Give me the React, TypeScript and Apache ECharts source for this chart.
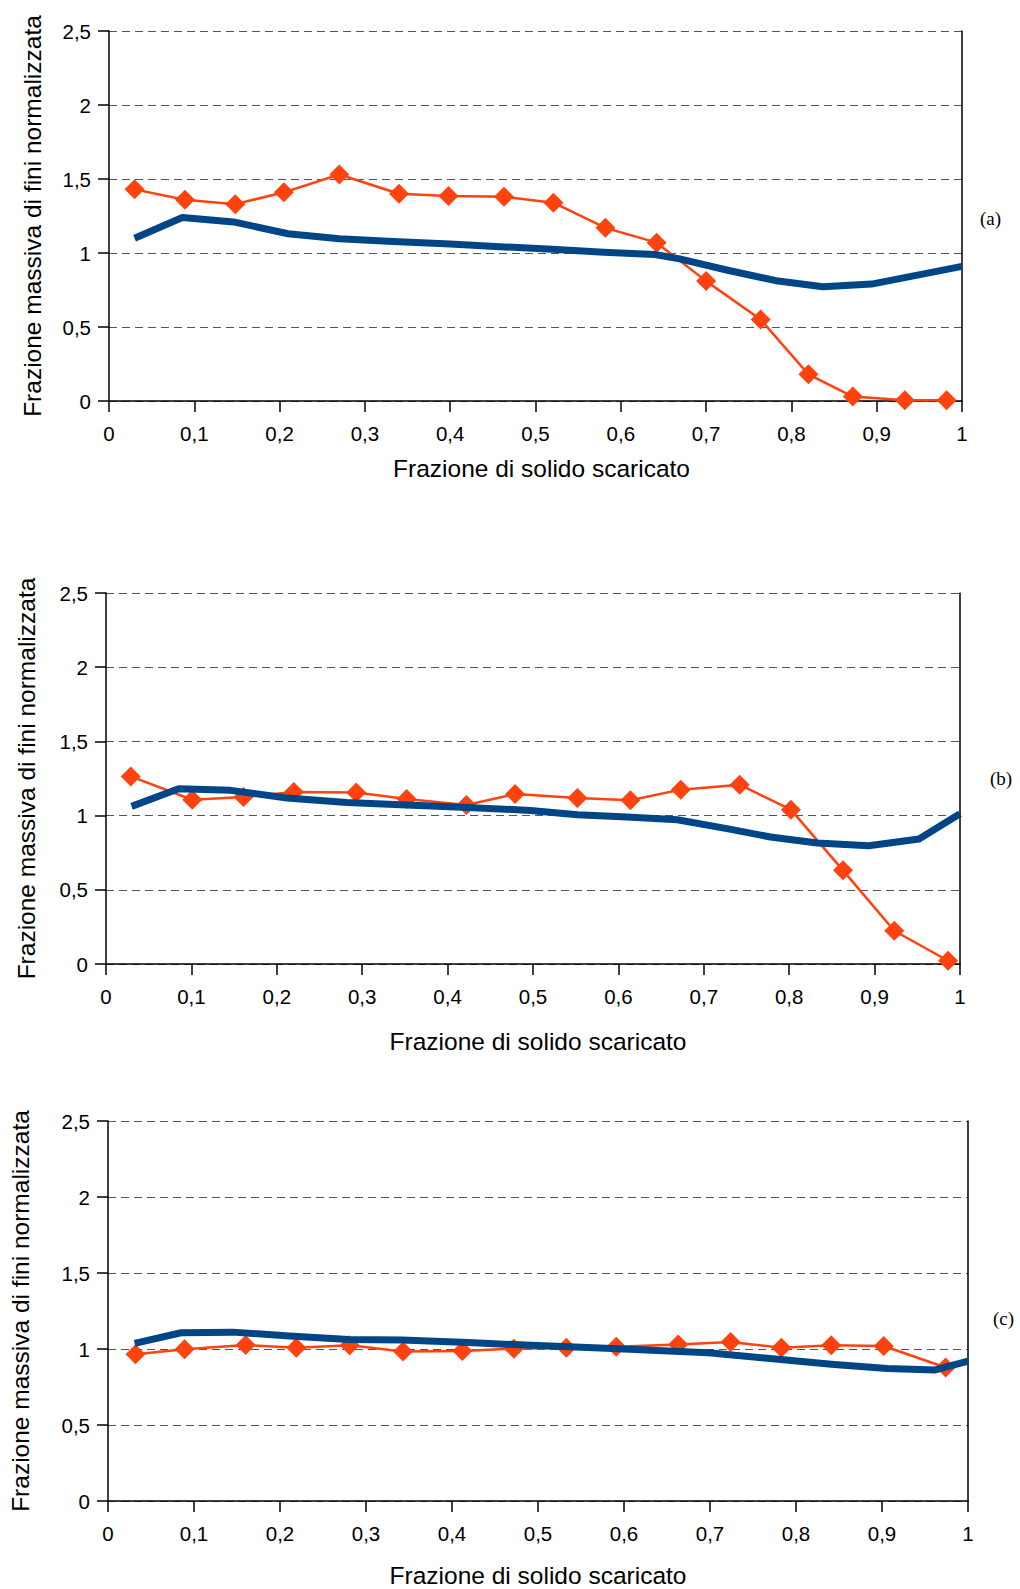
import React, { useEffect, useRef } from "react";
import * as echarts from "echarts";

// ---- Data ----
const xTicks = [0, 0.1, 0.2, 0.3, 0.4, 0.5, 0.6, 0.7, 0.8, 0.9, 1];
const yTicks = [0, 0.5, 1, 1.5, 2, 2.5];
const panelLabels = ["(a)", "(b)", "(c)"];
const xTitle = "Frazione di solido scaricato";
const yTitle = "Frazione massiva di fini normalizzata";

const redAx = [0.03, 0.089, 0.148, 0.205, 0.27, 0.34, 0.398, 0.463, 0.521, 0.582, 0.642, 0.7, 0.764, 0.82, 0.872, 0.933, 0.982];
const redAy = [1.43, 1.36, 1.33, 1.41, 1.53, 1.4, 1.385, 1.38, 1.34, 1.17, 1.07, 0.81, 0.55, 0.18, 0.03, 0.005, 0.005];
const blueAx = [0.03, 0.086, 0.146, 0.21, 0.27, 0.333, 0.4, 0.458, 0.52, 0.58, 0.64, 0.669, 0.724, 0.782, 0.837, 0.894, 1.0];
const blueAy = [1.1, 1.24, 1.21, 1.13, 1.097, 1.077, 1.061, 1.043, 1.025, 1.005, 0.99, 0.96, 0.885, 0.813, 0.772, 0.79, 0.91];

const redBx = [0.029, 0.101, 0.161, 0.22, 0.293, 0.352, 0.422, 0.479, 0.552, 0.614, 0.673, 0.742, 0.802, 0.863, 0.923, 0.986];
const redBy = [1.264, 1.107, 1.125, 1.159, 1.156, 1.112, 1.071, 1.145, 1.118, 1.103, 1.175, 1.208, 1.04, 0.631, 0.224, 0.022];
const blueBx = [0.03, 0.085, 0.146, 0.212, 0.282, 0.345, 0.423, 0.497, 0.552, 0.61, 0.669, 0.727, 0.778, 0.833, 0.893, 0.952, 1.0];
const blueBy = [1.062, 1.181, 1.17, 1.119, 1.089, 1.073, 1.055, 1.035, 1.006, 0.99, 0.972, 0.912, 0.856, 0.815, 0.797, 0.842, 1.013];

const redCx = [0.032, 0.089, 0.16, 0.219, 0.281, 0.343, 0.412, 0.472, 0.533, 0.591, 0.663, 0.724, 0.783, 0.841, 0.902, 0.974];
const redCy = [0.965, 0.998, 1.026, 1.009, 1.024, 0.983, 0.987, 1.002, 1.009, 1.015, 1.03, 1.046, 1.009, 1.024, 1.02, 0.878];
const blueCx = [0.031, 0.085, 0.145, 0.211, 0.28, 0.342, 0.419, 0.493, 0.593, 0.698, 0.779, 0.841, 0.906, 0.962, 1.0];
const blueCy = [1.037, 1.107, 1.111, 1.085, 1.063, 1.059, 1.042, 1.024, 1.002, 0.976, 0.932, 0.9, 0.871, 0.862, 0.921];

const RED = "#ff420e";
const BLUE = "#004586";
const FONT = "Liberation Sans";

const zip = (xs: number[], ys: number[]) => xs.map((x, i) => [x, ys[i]]);
const fmt = (v: number) => String(Math.round(v * 10) / 10).replace(".", ",");

const panels = [
  { red: zip(redAx, redAy), blue: zip(blueAx, blueAy), grid: { left: 109, top: 31, width: 853, height: 370 }, yGap: 64, xGap: 55, xPad: 12, label: { x: 980, y: 220 } },
  { red: zip(redBx, redBy), blue: zip(blueBx, blueBy), grid: { left: 106, top: 593, width: 854, height: 371 }, yGap: 67, xGap: 65, xPad: 10, label: { x: 990, y: 780 } },
  { red: zip(redCx, redCy), blue: zip(blueCx, blueCy), grid: { left: 105, top: 1121, width: 863, height: 381 }, yGap: 75, xGap: 62, xPad: 0, label: { x: 993, y: 1320 } },
];

export default function App() {
  const ref = useRef<HTMLDivElement>(null);
  useEffect(() => {
    if (!ref.current) return;
    const chart = echarts.init(ref.current, undefined, { renderer: "svg" });
    const grid: any[] = [];
    const xAxis: any[] = [];
    const yAxis: any[] = [];
    const series: any[] = [];
    const graphic: any[] = [];
    panels.forEach((p, i) => {
      grid.push({ ...p.grid, containLabel: false });
      xAxis.push({
        type: "value",
        gridIndex: i,
        min: xTicks[0],
        max: xTicks[xTicks.length - 1],
        interval: 0.1,
        name: xTitle,
        nameLocation: "middle",
        nameGap: p.xGap,
        nameTextStyle: { fontFamily: FONT, fontSize: 24.5, color: "#000", padding: [0, 0, 0, p.xPad] },
        axisLine: { show: true, onZero: false, lineStyle: { color: "#000", width: 1.5 } },
        axisTick: { show: true, length: 11, lineStyle: { color: "#000", width: 1.5 } },
        axisLabel: { fontFamily: FONT, fontSize: 20.5, color: "#000", margin: 22, formatter: (v: number) => fmt(v) },
        splitLine: { show: false },
      });
      yAxis.push({
        type: "value",
        gridIndex: i,
        min: yTicks[0],
        max: yTicks[yTicks.length - 1],
        interval: 0.5,
        name: yTitle,
        nameLocation: "middle",
        nameGap: p.yGap,
        nameRotate: 90,
        nameTextStyle: { fontFamily: FONT, fontSize: 24.5, color: "#000" },
        axisLine: { show: true, onZero: false, lineStyle: { color: "#000", width: 1.5 } },
        axisTick: { show: true, length: 11, lineStyle: { color: "#000", width: 1.5 } },
        axisLabel: { fontFamily: FONT, fontSize: 20.5, color: "#000", margin: 18, formatter: (v: number) => fmt(v) },
        splitLine: { show: true, lineStyle: { color: "#555", width: 1.2, type: [8, 5] } },
      });
      yAxis.push({
        type: "value",
        gridIndex: i,
        position: "right",
        min: 0,
        max: 2.5,
        interval: 0.5,
        axisLine: { show: true, onZero: false, lineStyle: { color: "#000", width: 1.5 } },
        axisTick: { show: false },
        axisLabel: { show: false },
        splitLine: { show: false },
      });
      series.push({
        type: "line",
        xAxisIndex: i,
        yAxisIndex: i * 2,
        data: p.red,
        symbol: "diamond",
        symbolSize: 20,
        itemStyle: { color: RED },
        lineStyle: { color: RED, width: 2.5 },
        z: 2,
      });
      series.push({
        type: "line",
        xAxisIndex: i,
        yAxisIndex: i * 2,
        data: p.blue,
        showSymbol: false,
        symbol: "none",
        lineStyle: { color: BLUE, width: 7, join: "round" },
        z: 3,
      });
      graphic.push({
        type: "text",
        left: p.label.x,
        top: p.label.y - 11,
        style: { text: panelLabels[i], fontFamily: "Liberation Serif", fontSize: 19, fill: "#000" },
      });
    });
    chart.setOption({
      animation: false,
      backgroundColor: "#fff",
      grid,
      xAxis,
      yAxis,
      series,
      graphic,
    });
    return () => chart.dispose();
  }, []);
  return <div ref={ref} style={{ position: "absolute", left: 0, top: 0, width: 1020, height: 1589 }} />;
}
